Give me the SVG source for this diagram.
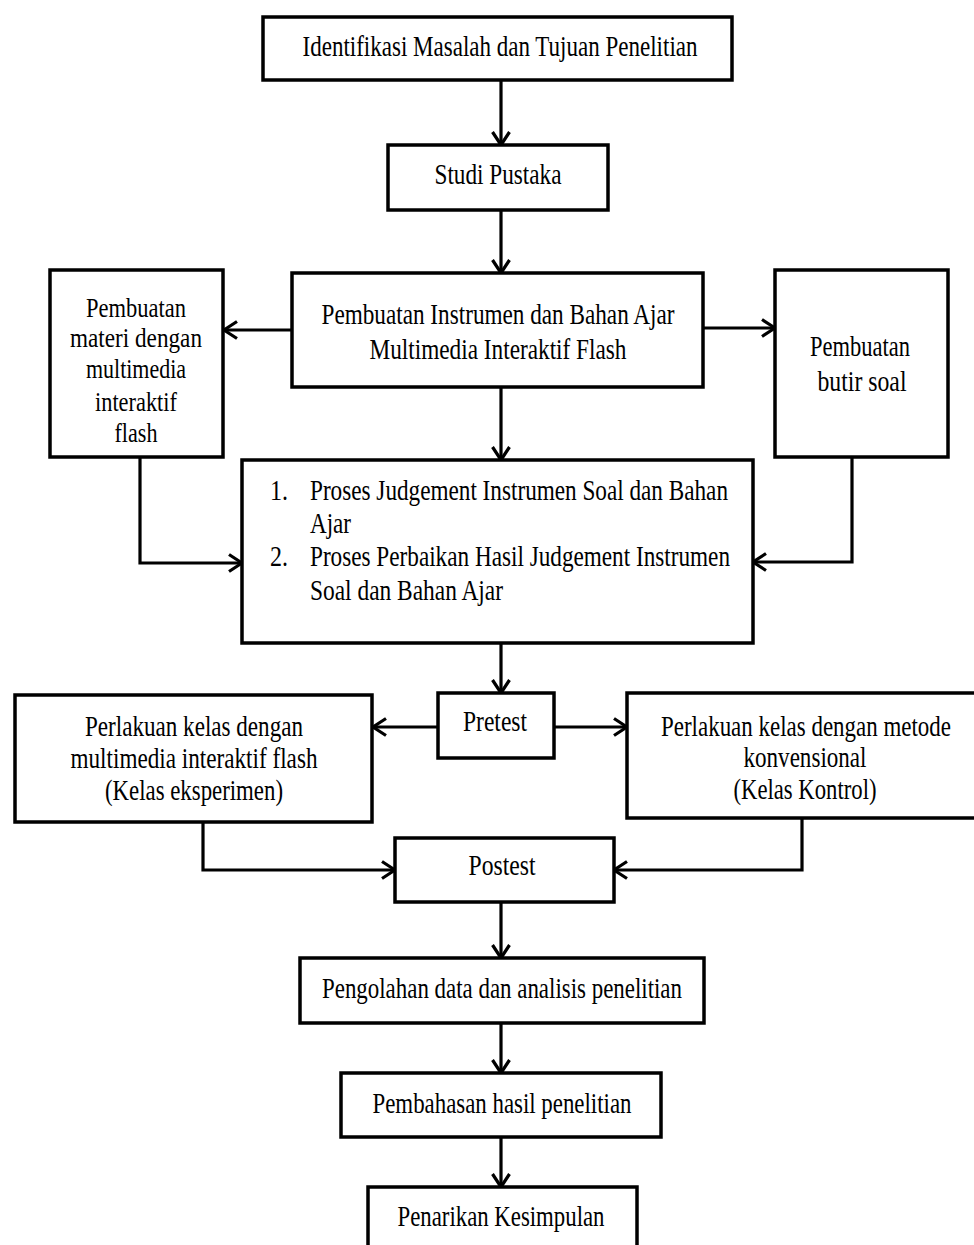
<svg xmlns="http://www.w3.org/2000/svg" width="974" height="1245" viewBox="0 0 974 1245">
<style>
.box{fill:#fff;stroke:#000;stroke-width:3.5}
.c{fill:none;stroke:#000;stroke-width:3.2}
text{font-family:"Liberation Serif","Times New Roman",serif;font-size:30px;fill:#000}
.m{text-anchor:middle}
.s{font-size:27px}
</style>
<defs>
<marker id="ah" viewBox="0 0 16 20" refX="14.5" refY="10" markerWidth="16" markerHeight="20" markerUnits="userSpaceOnUse" orient="auto">
<path d="M1.5,1.5 L14.5,10 L1.5,18.5" fill="none" stroke="#000" stroke-width="3.2"/>
</marker>
</defs>
<rect width="974" height="1245" fill="#fff"/>
<g id="connectors">
<path class="c" d="M501,80 V145" marker-end="url(#ah)"/>
<path class="c" d="M501,210 V273" marker-end="url(#ah)"/>
<path class="c" d="M292,330 H224" marker-end="url(#ah)"/>
<path class="c" d="M703,328 H775" marker-end="url(#ah)"/>
<path class="c" d="M501,387 V460" marker-end="url(#ah)"/>
<path class="c" d="M140,457 V563 H242" marker-end="url(#ah)"/>
<path class="c" d="M852,457 V562 H753" marker-end="url(#ah)"/>
<path class="c" d="M501,643 V693" marker-end="url(#ah)"/>
<path class="c" d="M438,727 H373" marker-end="url(#ah)"/>
<path class="c" d="M554,727 H627" marker-end="url(#ah)"/>
<path class="c" d="M203,822 V870 H395" marker-end="url(#ah)"/>
<path class="c" d="M802,818 V870 H614" marker-end="url(#ah)"/>
<path class="c" d="M501,902 V958" marker-end="url(#ah)"/>
<path class="c" d="M501,1023 V1073" marker-end="url(#ah)"/>
<path class="c" d="M501,1137 V1187" marker-end="url(#ah)"/>
</g>
<g id="n-identifikasi">
<rect class="box" x="263" y="17" width="469" height="63"/>
<text class="m" x="500" y="56" textLength="395" lengthAdjust="spacingAndGlyphs">Identifikasi Masalah dan Tujuan Penelitian</text>
</g>
<g id="n-studi">
<rect class="box" x="388" y="145" width="220" height="65"/>
<text class="m" x="498" y="184" textLength="127" lengthAdjust="spacingAndGlyphs">Studi Pustaka</text>
</g>
<g id="n-materi">
<rect class="box" x="50" y="270" width="173" height="187"/>
<text class="m s" x="136" y="317" textLength="100" lengthAdjust="spacingAndGlyphs">Pembuatan</text>
<text class="m s" x="136" y="347" textLength="132" lengthAdjust="spacingAndGlyphs">materi dengan</text>
<text class="m s" x="136" y="378" textLength="100" lengthAdjust="spacingAndGlyphs">multimedia</text>
<text class="m s" x="136" y="411" textLength="82" lengthAdjust="spacingAndGlyphs">interaktif</text>
<text class="m s" x="136" y="442" textLength="43" lengthAdjust="spacingAndGlyphs">flash</text>
</g>
<g id="n-instrumen">
<rect class="box" x="292" y="273" width="411" height="114"/>
<text class="m" x="498" y="324" textLength="353" lengthAdjust="spacingAndGlyphs">Pembuatan Instrumen dan Bahan Ajar</text>
<text class="m" x="498" y="359" textLength="257" lengthAdjust="spacingAndGlyphs">Multimedia Interaktif Flash</text>
</g>
<g id="n-butir">
<rect class="box" x="775" y="270" width="173" height="187"/>
<text class="m" x="860" y="356" textLength="100" lengthAdjust="spacingAndGlyphs">Pembuatan</text>
<text class="m" x="862" y="391" textLength="89" lengthAdjust="spacingAndGlyphs">butir soal</text>
</g>
<g id="n-judgement">
<rect class="box" x="242" y="460" width="511" height="183"/>
<text x="270" y="500" textLength="18" lengthAdjust="spacingAndGlyphs">1.</text>
<text x="310" y="500" textLength="418" lengthAdjust="spacingAndGlyphs">Proses Judgement Instrumen Soal dan Bahan</text>
<text x="310" y="533" textLength="41" lengthAdjust="spacingAndGlyphs">Ajar</text>
<text x="270" y="566" textLength="18" lengthAdjust="spacingAndGlyphs">2.</text>
<text x="310" y="566" textLength="420" lengthAdjust="spacingAndGlyphs">Proses Perbaikan Hasil Judgement Instrumen</text>
<text x="310" y="600" textLength="193" lengthAdjust="spacingAndGlyphs">Soal dan Bahan Ajar</text>
</g>
<g id="n-pretest">
<rect class="box" x="438" y="693" width="116" height="65"/>
<text class="m" x="495" y="731" textLength="64" lengthAdjust="spacingAndGlyphs">Pretest</text>
</g>
<g id="n-eksperimen">
<rect class="box" x="15" y="695" width="357" height="127"/>
<text class="m" x="194" y="736" textLength="218" lengthAdjust="spacingAndGlyphs">Perlakuan kelas dengan</text>
<text class="m" x="194" y="768" textLength="247" lengthAdjust="spacingAndGlyphs">multimedia interaktif flash</text>
<text class="m" x="194" y="800" textLength="178" lengthAdjust="spacingAndGlyphs">(Kelas eksperimen)</text>
</g>
<g id="n-kontrol">
<rect class="box" x="627" y="693" width="370" height="125"/>
<text class="m" x="806" y="736" textLength="290" lengthAdjust="spacingAndGlyphs">Perlakuan kelas dengan metode</text>
<text class="m" x="805" y="767" textLength="123" lengthAdjust="spacingAndGlyphs">konvensional</text>
<text class="m" x="805" y="799" textLength="143" lengthAdjust="spacingAndGlyphs">(Kelas Kontrol)</text>
</g>
<g id="n-postest">
<rect class="box" x="395" y="838" width="219" height="64"/>
<text class="m" x="502" y="875" textLength="67" lengthAdjust="spacingAndGlyphs">Postest</text>
</g>
<g id="n-pengolahan">
<rect class="box" x="300" y="958" width="404" height="65"/>
<text class="m" x="502" y="998" textLength="360" lengthAdjust="spacingAndGlyphs">Pengolahan data dan analisis penelitian</text>
</g>
<g id="n-pembahasan">
<rect class="box" x="341" y="1073" width="320" height="64"/>
<text class="m" x="502" y="1113" textLength="259" lengthAdjust="spacingAndGlyphs">Pembahasan hasil penelitian</text>
</g>
<g id="n-penarikan">
<rect class="box" x="368" y="1187" width="269" height="80"/>
<text class="m" x="501" y="1226" textLength="207" lengthAdjust="spacingAndGlyphs">Penarikan Kesimpulan</text>
</g>
</svg>
